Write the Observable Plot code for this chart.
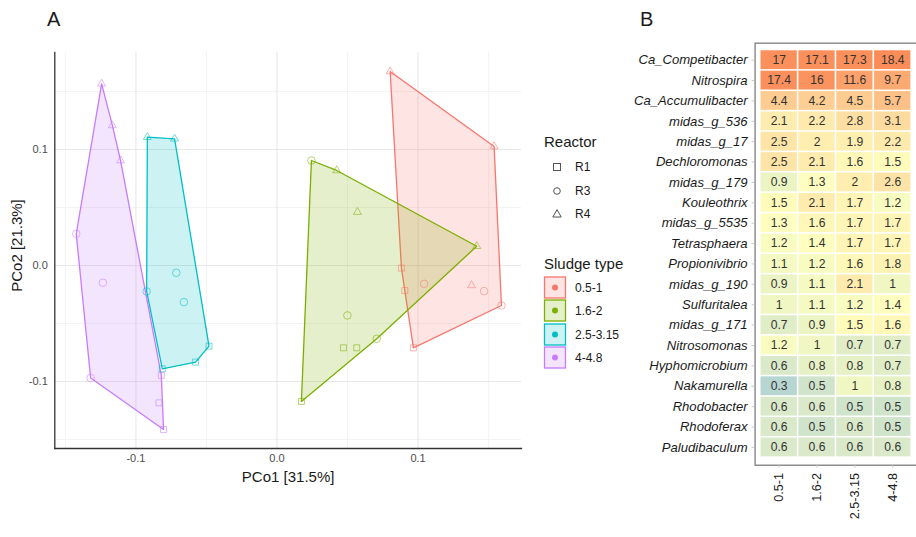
<!DOCTYPE html>
<html>
<head>
<meta charset="utf-8">
<script src="https://cdn.jsdelivr.net/npm/d3@7"></script>
<script src="https://cdn.jsdelivr.net/npm/@observablehq/plot@0.6"></script>
<style>
  html, body { margin: 0; padding: 0; background: #fff; overflow: hidden; }
  #wrap { position: relative; width: 916px; height: 537px; overflow: hidden; background: #fff;
          font-family: "Liberation Sans", Arial, sans-serif; }
  .abs { position: absolute; white-space: nowrap; }
  .panel-label { font-size: 20px; color: #1a1a1a; line-height: 1; }
  .leg-title { font-size: 15px; color: #1a1a1a; line-height: 1; }
  .leg-item { font-size: 12px; color: #1a1a1a; line-height: 1; }
</style>
</head>
<body>
<div id="wrap">
  <div id="plotA" class="abs" style="left:0;top:0"></div>
  <div id="plotB" class="abs" style="left:620px;top:0"></div>
  <div class="abs panel-label" style="left:47px;top:9px">A</div>
  <div class="abs panel-label" style="left:640px;top:9px">B</div>
  <div id="legend" class="abs" style="left:0;top:0;width:916px;height:537px;pointer-events:none"></div>
</div>
<script>
// ---------- Panel A data (PCoA) ----------
const sludgeTypes = ["0.5-1", "1.6-2", "2.5-3.15", "4-4.8"];
const reactors = ["R1", "R3", "R4"];
const sludgeColors = ["#F8766D", "#7CAE00", "#00BFC4", "#C77CFF"];

const pco1 = [
  0.0802, 0.1539, 0.1379, 0.1591, 0.1468, 0.1043, 0.0882, 0.0906, 0.0967,
  0.0244, 0.0423, 0.0570, 0.1416, 0.0499, 0.0707, 0.0471, 0.0565, 0.0173,
  -0.0919, -0.0726, -0.0714, -0.0660, -0.0924, -0.0482, -0.0577, -0.0813,
  -0.1243, -0.1167, -0.1109, -0.1423, -0.1234, -0.1321, -0.0820, -0.0837, -0.0804
];
const pco2 = [
  0.1672, 0.1026, -0.0172, -0.0345, -0.0221, -0.0158, -0.0023, -0.0216, -0.0710,
  0.0905, 0.0819, 0.0460, 0.0166, -0.0431, -0.0632, -0.0710, -0.0710, -0.1172,
  0.1106, 0.1092, -0.0063, -0.0316, -0.0224, -0.0696, -0.0833, -0.0891,
  0.1566, 0.1207, 0.0905, 0.0273, -0.0149, -0.0971, -0.0948, -0.1184, -0.1414
];
const pointSludge = [
  "0.5-1","0.5-1","0.5-1","0.5-1","0.5-1","0.5-1","0.5-1","0.5-1","0.5-1",
  "1.6-2","1.6-2","1.6-2","1.6-2","1.6-2","1.6-2","1.6-2","1.6-2","1.6-2",
  "2.5-3.15","2.5-3.15","2.5-3.15","2.5-3.15","2.5-3.15","2.5-3.15","2.5-3.15","2.5-3.15",
  "4-4.8","4-4.8","4-4.8","4-4.8","4-4.8","4-4.8","4-4.8","4-4.8","4-4.8"
];
const pointReactor = [
  "R4","R4","R4","R3","R3","R3","R1","R1","R1",
  "R3","R4","R4","R4","R3","R3","R1","R1","R1",
  "R4","R4","R3","R3","R3","R1","R1","R1",
  "R4","R4","R4","R3","R3","R3","R1","R1","R1"
];
const xTicks = [-0.1, 0, 0.1];
const yTicks = [-0.1, 0, 0.1];
const xMinor = [-0.15, -0.05, 0.05, 0.15];
const yMinor = [-0.15, -0.05, 0.05, 0.15];

// ---------- Panel B data (heatmap) ----------
const genera = ["Ca_Competibacter","Nitrospira","Ca_Accumulibacter","midas_g_536","midas_g_17",
  "Dechloromonas","midas_g_179","Kouleothrix","midas_g_5535","Tetrasphaera","Propionivibrio",
  "midas_g_190","Sulfuritalea","midas_g_171","Nitrosomonas","Hyphomicrobium","Nakamurella",
  "Rhodobacter","Rhodoferax","Paludibaculum"];
const heatCols = ["0.5-1", "1.6-2", "2.5-3.15", "4-4.8"];
const abund_05_1   = [17, 17.4, 4.4, 2.1, 2.5, 2.5, 0.9, 1.5, 1.3, 1.2, 1.1, 0.9, 1, 0.7, 1.2, 0.6, 0.3, 0.6, 0.6, 0.6];
const abund_16_2   = [17.1, 16, 4.2, 2.2, 2, 2.1, 1.3, 2.1, 1.6, 1.4, 1.2, 1.1, 1.1, 0.9, 1, 0.8, 0.5, 0.6, 0.5, 0.6];
const abund_25_315 = [17.3, 11.6, 4.5, 2.8, 1.9, 1.6, 2, 1.7, 1.7, 1.7, 1.6, 2.1, 1.2, 1.5, 0.7, 0.8, 1, 0.5, 0.6, 0.6];
const abund_4_48   = [18.4, 9.7, 5.7, 3.1, 2.2, 1.5, 2.6, 1.2, 1.7, 1.7, 1.8, 1, 1.4, 1.6, 0.7, 0.7, 0.8, 0.5, 0.5, 0.6];

// ---------- build tables ----------
const points = pco1.map((x, i) => ({x, y: pco2[i], sludge: pointSludge[i], reactor: pointReactor[i]}));
const hulls = [];
for (const s of sludgeTypes) {
  const pts = points.filter(p => p.sludge === s).map(p => [p.x, p.y]);
  const h = d3.polygonHull(pts);
  h.forEach(([x, y]) => hulls.push({x, y, sludge: s}));
}
const colArrays = [abund_05_1, abund_16_2, abund_25_315, abund_4_48];
const cells = [];
heatCols.forEach((c, j) => genera.forEach((g, i) => cells.push({col: c, genus: g, value: colArrays[j][i]})));

const font = "'Liberation Sans', Arial, sans-serif";

// ---------- Panel A ----------
const A = Plot.plot({
  width: 521, height: 490,
  marginLeft: 54.3, marginRight: 0, marginTop: 52, marginBottom: 42,
  style: {fontFamily: font, background: "transparent", overflow: "visible"},
  x: {domain: [-0.1575, 0.1733]},
  y: {domain: [-0.1578, 0.1836]},
  color: {domain: sludgeTypes, range: sludgeColors},
  symbol: {domain: reactors, range: ["square2", "circle", "triangle2"]},
  marks: [
    Plot.gridX(xMinor, {stroke: "#f3f3f3", strokeOpacity: 1, strokeWidth: 1}),
    Plot.gridY(yMinor, {stroke: "#f3f3f3", strokeOpacity: 1, strokeWidth: 1}),
    Plot.gridX(xTicks, {stroke: "#e8e8e8", strokeOpacity: 1, strokeWidth: 1.1}),
    Plot.gridY(yTicks, {stroke: "#e8e8e8", strokeOpacity: 1, strokeWidth: 1.1}),
    Plot.line(hulls, {x: "x", y: "y", z: "sludge", fill: "sludge", fillOpacity: 0.2,
      stroke: "sludge", strokeWidth: 1.3, curve: "linear-closed"}),
    Plot.dot(points, {x: "x", y: "y", symbol: "reactor", stroke: "sludge",
      strokeOpacity: 0.55, strokeWidth: 1, r: 3.8}),
    Plot.axisX(xTicks, {tickSize: 0, tickPadding: 6, fontSize: 11, fill: "#4d4d4d",
      tickFormat: d => d.toFixed(1), label: null}),
    Plot.axisY(yTicks, {tickSize: 0, tickPadding: 7, fontSize: 11, fill: "#4d4d4d",
      tickFormat: d => d.toFixed(1), label: null}),
    Plot.frame({anchor: "bottom", stroke: "#333", strokeWidth: 1.3}),
    Plot.frame({anchor: "left", stroke: "#333", strokeWidth: 1.3}),
    Plot.text(["PCo1 [31.5%]"], {frameAnchor: "bottom", dy: 29, lineAnchor: "middle",
      fontSize: 15, fill: "#1a1a1a"}),
    Plot.text(["PCo2 [21.3%]"], {frameAnchor: "left", dx: -38, dy: -5, rotate: -90,
      lineAnchor: "middle", textAnchor: "middle", fontSize: 15, fill: "#1a1a1a"})
  ]
});
document.getElementById("plotA").appendChild(A);

// ---------- Panel B ----------
const B = Plot.plot({
  width: 305, height: 537,
  marginLeft: 143.5, marginRight: 3.9, marginTop: 46.7, marginBottom: 61.1,
  style: {fontFamily: font, background: "transparent", overflow: "visible"},
  x: {domain: heatCols, padding: 0},
  y: {domain: genera, padding: 0},
  color: {type: "log", domain: [0.13, 1.36, 18.4], range: ["#91BFDB", "#FFFFBF", "#FC8D59"], interpolate: "rgb"},
  marks: [
    Plot.frame({stroke: "#8a8a8a", strokeWidth: 1.5, insetLeft: -4.8, insetTop: -2.7, insetBottom: -3, insetRight: -4.8}),
    Plot.cell(cells, {x: "col", y: "genus", fill: "value", inset: 0.8}),
    Plot.text(cells, {x: "col", y: "genus", text: d => String(d.value), fontSize: 12.5, fill: "#333"}),
    Plot.axisY({tickSize: 3, dx: -5, tickPadding: 4.5, fontSize: 13.5, fontStyle: "italic",
      fill: "#1a1a1a", stroke: "#c8c8c8", label: null}),
    Plot.axisX({tickSize: 3, dy: 3, tickPadding: 5, tickRotate: -90, fontSize: 13,
      fill: "#1a1a1a", stroke: "#c8c8c8", label: null})
  ]
});
document.getElementById("plotB").appendChild(B);

// ---------- Legend (panel A) ----------
const leg = document.getElementById("legend");
let html = `<div class="abs leg-title" style="left:544px;top:134px">Reactor</div>`;
const reactorY = [167, 190.5, 213.5];
const glyphs = [
  `<rect x="3.5" y="3.5" width="7" height="7" fill="none" stroke="#555" stroke-width="1"/>`,
  `<circle cx="7" cy="7" r="3.3" fill="none" stroke="#555" stroke-width="1"/>`,
  `<path d="M7,2.6 L11.2,10 L2.8,10 Z" fill="none" stroke="#555" stroke-width="1"/>`
];
reactors.forEach((r, i) => {
  html += `<svg class="abs" style="left:550px;top:${reactorY[i] - 7}px" width="14" height="14">${glyphs[i]}</svg>`;
  html += `<div class="abs leg-item" style="left:575px;top:${reactorY[i] - 6}px">${r}</div>`;
});
html += `<div class="abs leg-title" style="left:544px;top:256px">Sludge type</div>`;
const boxTop = [275.5, 299, 322.5, 346];
sludgeTypes.forEach((s, i) => {
  const c = sludgeColors[i];
  html += `<svg class="abs" style="left:543px;top:${boxTop[i]}px" width="24" height="24">
    <rect x="1.5" y="1" width="21" height="21" fill="${c}" fill-opacity="0.2" stroke="${c}" stroke-width="1.3"/>
    <circle cx="12" cy="11.5" r="3" fill="${c}"/></svg>`;
  html += `<div class="abs leg-item" style="left:575px;top:${boxTop[i] + 6}px">${s}</div>`;
});
leg.innerHTML = html;
</script>
</body>
</html>
